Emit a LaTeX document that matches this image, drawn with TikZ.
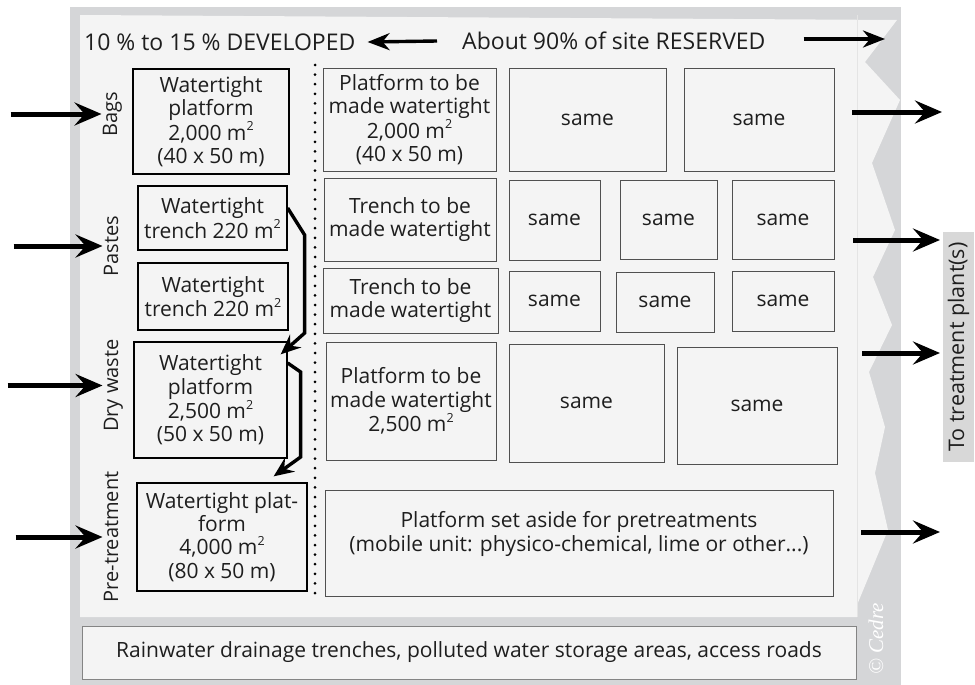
\documentclass[tikz,border=0pt]{standalone}
\usepackage{fontspec}
\setmainfont{Open Sans}
\newfontfamily\cedrefont{Liberation Serif}
\usetikzlibrary{arrows.meta}
\definecolor{framegray}{RGB}{213,214,216}
\definecolor{panel}{RGB}{244,244,244}
\definecolor{tboxgray}{RGB}{216,216,216}
\definecolor{rborder}{RGB}{80,80,80}
\definecolor{txt}{RGB}{30,30,30}
\definecolor{seam}{RGB}{228,228,228}
\newcommand\msq{m\raisebox{0.45em}{\fontsize{12.5}{12.5}\selectfont 2}}
\begin{document}
\begin{tikzpicture}[x=1pt,y=-1pt,
  every node/.style={font=\fontsize{21}{23.3}\selectfont, text=txt, inner sep=0pt},
  titletext/.style={font=\fontsize{23}{26}\selectfont, anchor=west},
  lbox/.style={draw=black, line width=1.3pt, fill=panel, align=center},
  rbox/.style={draw=rborder, line width=0.9pt, fill=panel, align=center},
  sidelabel/.style={rotate=90, anchor=base, font=\fontsize{20}{23}\selectfont},
  inarrow/.style={line width=5pt, -{Stealth[length=27pt,width=23pt,inset=10pt]}},
  titlearrow/.style={line width=3.4pt, -{Stealth[length=22pt,width=17pt,inset=7pt]}},
  flowarrow/.style={line width=3.4pt, line join=miter, -{Stealth[length=20pt,width=17pt,inset=7pt]}}
]
\useasboundingbox (0,0) rectangle (975,685);
% frame and panel
\fill[framegray] (70,7) rectangle (901,685);
\fill[panel] (80,15) -- (897,20) -- (865,62) -- (900,100) -- (872,163) -- (895,230)
  -- (873,277) -- (892,325) -- (869,372) -- (885,427) -- (875,473) -- (888,530)
  -- (857,605) -- (857,617) -- (80,617) -- cycle;
\draw[seam, line width=0.6pt] (857,15) -- (857,617);
\node[rotate=90, text=white, font=\cedrefont\itshape\fontsize{21}{24}\selectfont] (cedre) at (876,639) {© Cedre};

% titles
\node[titletext] (dev) at (84,42) {10 \% to 15 \% DEVELOPED};
\node[titletext] (about) at (462,41) {About 90\% of site RESERVED};
\draw[titlearrow] ([xshift=-25pt]about.west) -- ([xshift=12pt]dev.east);
\coordinate (resend) at (885,39);
\draw[titlearrow] ([xshift=38pt]about.east |- resend) -- (resend);

% dotted divider
\coordinate (dtop) at (315,65);
\coordinate (dbot) at (315,598);
\draw[line width=3pt, line cap=round, dash pattern=on 0pt off 9.6pt] (dtop) -- (dbot);

% left column
\node[lbox, minimum width=156pt, minimum height=105pt] (bags) at (211,121.5) {Watertight\\platform\\2,000 \msq\\(40 x 50 m)};
\node[lbox, minimum width=149pt, minimum height=64pt] (paste1) at (212.5,218) {Watertight\\trench 220 \msq};
\node[lbox, minimum width=150pt, minimum height=67pt] (paste2) at (213,296.5) {Watertight\\trench 220 \msq};
\node[lbox, minimum width=153pt, minimum height=116pt] (dry) at (210.5,400) {Watertight\\platform\\2,500 \msq\\(50 x 50 m)};
\node[lbox, minimum width=170pt, minimum height=108pt] (pret) at (222,537) {Watertight plat-\\form\\4,000 \msq\\(80 x 50 m)};

% side labels
\node[sidelabel] (lbags) at (117,114) {Bags};
\node[sidelabel] (lpastes) at (118,246) {Pastes};
\node[sidelabel] (ldry) at (118,385.5) {Dry waste};
\node[sidelabel] (lpret) at (118,537) {Pre-treatment};

% incoming arrows
\draw[inarrow] ([xshift=-92pt]lbags.north) -- ([xshift=-1pt]lbags.north);
\draw[inarrow] ([xshift=-90pt]lpastes.north) -- ([xshift=-1pt]lpastes.north);
\draw[inarrow] ([xshift=-96pt]ldry.north) -- ([xshift=-1pt]ldry.north);
\draw[inarrow] ([xshift=-88pt]lpret.north) -- ([xshift=-1pt]lpret.north);

% transfer arrows
\draw[flowarrow] ([yshift=10pt]paste1.east) -- ++(17,27) -- ++(0,98) -- ([xshift=-7pt,yshift=-13pt]dry.north east);
\draw[flowarrow] ([yshift=37pt]dry.east) -- ++(13,9) -- ++(0,85) -- ([xshift=-34pt,yshift=6pt]pret.north east);

% right column
\node[rbox, minimum width=173pt, minimum height=103pt] (p1) at (409.5,119.5) {Platform to be\\made watertight\\2,000 \msq\\(40 x 50 m)};
\node[rbox, minimum width=157pt, minimum height=103pt] (s11) at (587.5,119.5) {same};
\node[rbox, minimum width=150pt, minimum height=103pt] (s12) at (759,119.5) {same};

\node[rbox, minimum width=172pt, minimum height=83pt] (t2) at (410,219.5) {Trench to be\\made watertight};
\node[rbox, minimum width=91pt, minimum height=80pt] (s21) at (554.5,220) {same};
\node[rbox, minimum width=97pt, minimum height=79pt] (s22) at (668.5,219.5) {same};
\node[rbox, minimum width=102pt, minimum height=79pt] (s23) at (783,219.5) {same};

\node[rbox, minimum width=175pt, minimum height=65pt] (t3) at (410.5,300.5) {Trench to be\\made watertight};
\node[rbox, minimum width=91pt, minimum height=60pt] (s31) at (554.5,301) {same};
\node[rbox, minimum width=98pt, minimum height=60pt] (s32) at (665,302) {same};
\node[rbox, minimum width=102pt, minimum height=60pt] (s33) at (783,301) {same};

\node[rbox, minimum width=170pt, minimum height=118pt] (p4) at (411,401) {Platform to be\\made watertight\\2,500 \msq};
\node[rbox, minimum width=155pt, minimum height=118pt] (s41) at (586.5,403) {same};
\node[rbox, minimum width=160pt, minimum height=117pt] (s42) at (757,405.5) {same};

\node[rbox, minimum width=508pt, minimum height=106pt] (p5) at (579,543) {Platform set aside for pretreatments\\(mobile unit: physico-chemical, lime or other...)\\\mbox{}};

% bottom strip
\node[draw=rborder!70, line width=0.8pt, fill=panel, minimum width=774pt, minimum height=53pt] (roads) at (469,652.5) {Rainwater drainage trenches, polluted water storage areas, access roads};

% outgoing arrows
\node[fill=tboxgray, rotate=90, minimum width=230pt, minimum height=31pt, font=\fontsize{21.5}{24}\selectfont] (treat) at (958.5,347) {To treatment plant(s)};
\coordinate (o1s) at (852,112); \coordinate (o1e) at (942,112);
\coordinate (o2s) at (853,240); \coordinate (o2e) at (940,240);
\coordinate (o3s) at (862,353); \coordinate (o3e) at (940,353);
\coordinate (o4s) at (861,532); \coordinate (o4e) at (940,532);
\draw[inarrow] (o1s) -- (o1e);
\draw[inarrow] (o2s) -- (o2e);
\draw[inarrow] (o3s) -- (o3e);
\draw[inarrow] (o4s) -- (o4e);
\end{tikzpicture}
\end{document}
